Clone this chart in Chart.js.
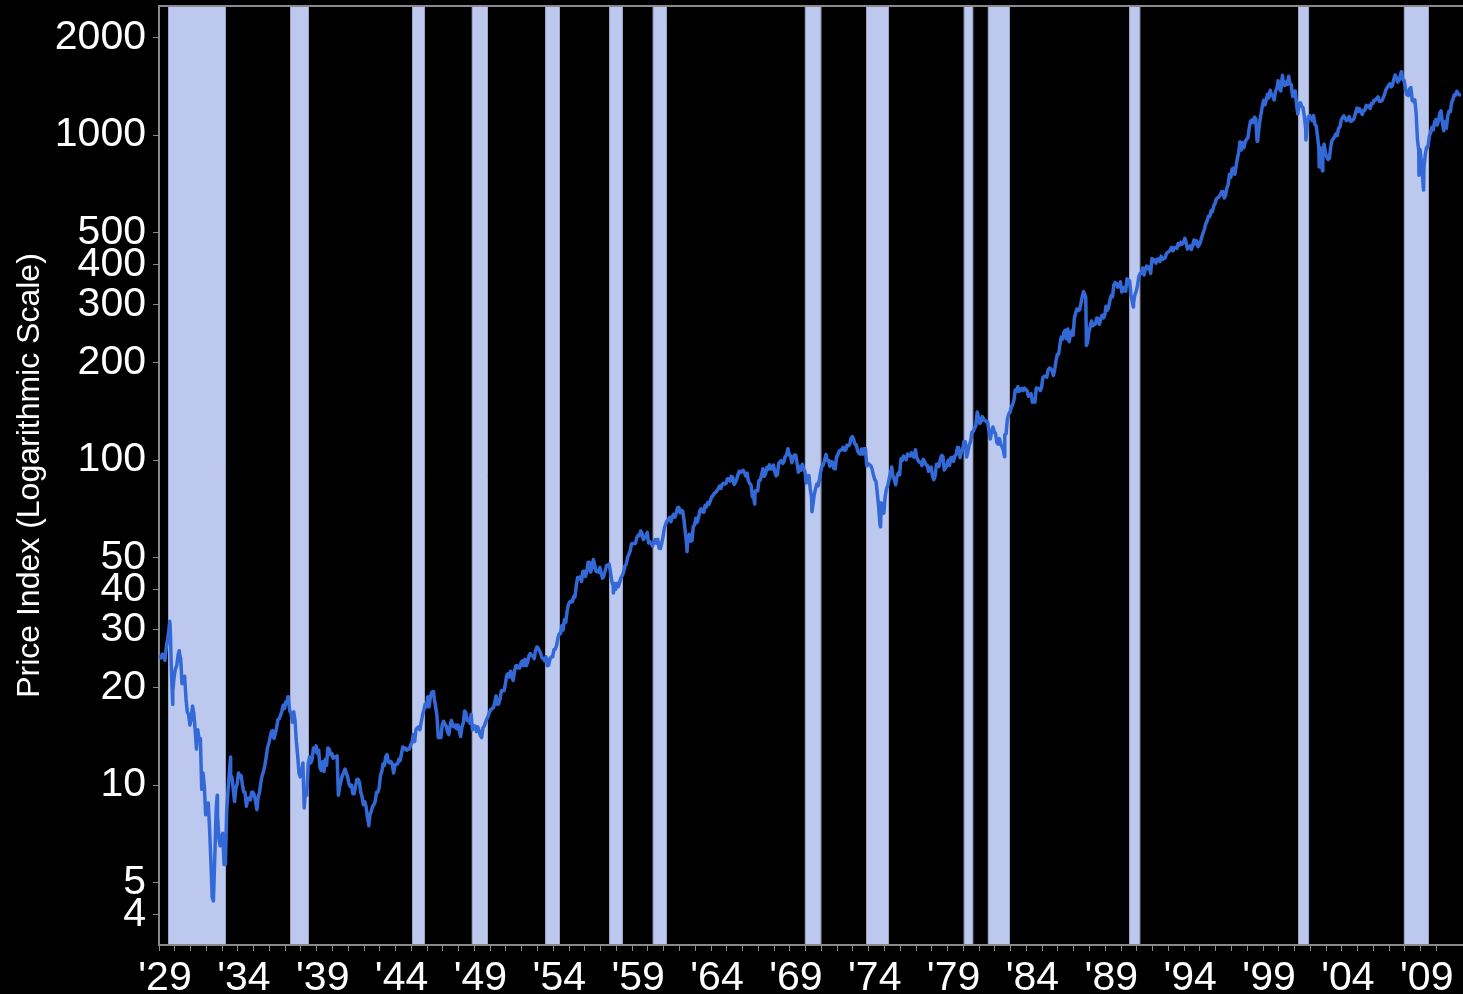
<!DOCTYPE html>
<html>
<head>
<meta charset="utf-8">
<script src="https://cdn.jsdelivr.net/npm/chart.js@4.4.1/dist/chart.umd.min.js"></script>
<style>
  html, body { margin: 0; padding: 0; background: #000; }
  #wrap { width: 1463px; height: 994px; position: relative; }
</style>
</head>
<body>
<div id="wrap"><canvas id="c"></canvas></div>
<script>
// Monthly index levels, January 1929 onward, one array per decade.
const firstYear = 1929;

const m1929_1938 = [
  24.9, 24.6, 25.3, 25.0, 24.2, 26.5, 28.0, 30.0, 31.0, 22.0, 19.5, 21.5,
  22.8, 23.3, 25.1, 25.5, 24.5, 20.5, 21.5, 21.6, 18.5, 16.8, 16.5, 15.3,
  16.0, 17.5, 16.6, 14.8, 12.9, 14.8, 13.8, 13.9, 9.7, 10.9, 9.9, 8.1,
  8.3, 8.8, 7.3, 5.8, 4.5, 4.4, 6.1, 8.4, 8.1, 6.9, 6.5, 6.9,
  7.1, 5.7, 5.7, 8.3, 9.6, 10.9, 10.6, 10.6, 9.7, 8.9, 9.8, 10.1,
  10.9, 10.6, 10.7, 10.0, 9.5, 9.5, 8.6, 9.1, 9.1, 9.0, 9.5, 9.5,
  9.3, 8.9, 8.4, 9.2, 9.5, 10.2, 10.7, 11.0, 11.5, 12.1, 13.0, 13.4,
  14.0, 14.6, 14.7, 13.9, 14.4, 15.0, 15.9, 16.0, 16.4, 16.9, 17.6, 17.2,
  18.0, 18.1, 18.2, 16.9, 16.6, 15.6, 16.8, 15.8, 13.6, 12.3, 10.9, 10.6,
  11.0, 11.7, 8.5, 9.7, 9.3, 11.6, 12.2, 11.7, 12.0, 13.0, 12.7, 13.2
];

const m1939_1948 = [
  12.5, 12.8, 11.3, 11.1, 11.8, 11.0, 12.0, 11.5, 13.0, 12.9, 12.4, 12.5,
  12.1, 12.2, 12.2, 12.3, 9.3, 9.9, 10.3, 10.7, 10.9, 11.2, 10.9, 10.6,
  10.1, 9.9, 10.0, 9.4, 9.4, 9.9, 10.4, 10.4, 10.2, 9.5, 9.2, 8.7,
  8.9, 8.6, 8.0, 7.6, 8.1, 8.3, 8.6, 8.7, 8.9, 9.5, 9.5, 9.8,
  10.7, 11.0, 11.6, 11.5, 12.2, 12.4, 11.8, 11.7, 11.8, 11.6, 10.9, 11.5,
  11.6, 11.6, 12.0, 11.9, 12.5, 13.1, 12.9, 13.0, 12.8, 12.9, 12.9, 13.3,
  13.5, 14.3, 13.6, 14.8, 15.0, 15.1, 14.8, 15.6, 16.4, 17.0, 17.7, 17.4,
  18.7, 17.4, 18.7, 19.3, 19.4, 18.4, 17.4, 16.3, 14.0, 14.0, 14.0, 15.3,
  15.7, 15.4, 15.2, 14.6, 14.3, 15.2, 15.8, 15.2, 15.1, 15.3, 14.9, 15.3,
  14.7, 14.1, 15.1, 15.5, 16.9, 16.7, 15.8, 15.9, 15.5, 16.5, 14.8, 15.2
];

const m1949_1958 = [
  15.2, 14.6, 15.1, 14.7, 14.2, 14.0, 15.0, 15.2, 15.6, 16.0, 16.3, 16.8,
  17.1, 17.2, 17.3, 18.0, 18.8, 17.7, 17.8, 18.4, 19.5, 19.5, 19.5, 20.4,
  21.7, 22.0, 21.5, 22.4, 21.5, 21.0, 22.4, 23.3, 23.3, 22.9, 22.9, 23.8,
  24.1, 23.3, 24.4, 23.3, 23.9, 25.0, 25.4, 25.0, 25.0, 24.5, 26.0, 26.6,
  26.4, 25.9, 25.3, 24.6, 24.5, 24.1, 24.8, 23.3, 23.4, 24.5, 24.8, 24.8,
  26.1, 26.2, 26.9, 28.3, 29.2, 29.2, 30.9, 30.0, 32.3, 31.7, 34.2, 36.0,
  36.6, 36.8, 36.6, 38.0, 37.9, 41.0, 43.5, 43.2, 43.7, 42.3, 45.5, 45.5,
  43.8, 45.3, 48.5, 48.4, 45.2, 47.0, 49.4, 47.5, 45.4, 45.6, 45.1, 46.7,
  44.7, 43.3, 44.1, 45.7, 47.4, 47.4, 47.9, 45.2, 42.4, 41.1, 41.7, 40.0,
  41.7, 40.8, 42.1, 43.4, 44.1, 45.2, 47.2, 47.8, 50.1, 51.3, 52.5, 55.2
];

const m1959_1968 = [
  55.4, 55.4, 55.4, 57.6, 58.7, 58.5, 60.5, 59.6, 56.9, 57.5, 58.3, 59.9,
  55.6, 56.1, 55.3, 54.4, 55.8, 56.9, 55.5, 57.0, 53.5, 53.4, 55.5, 58.1,
  61.8, 63.4, 65.1, 65.3, 66.6, 64.6, 66.8, 68.1, 66.7, 68.6, 71.3, 71.6,
  68.8, 70.0, 69.6, 65.2, 59.6, 54.8, 58.2, 59.1, 56.3, 56.5, 62.3, 63.1,
  66.2, 64.3, 66.6, 69.8, 70.8, 69.4, 69.1, 72.5, 71.7, 74.0, 73.2, 75.0,
  77.0, 77.8, 79.0, 79.5, 80.4, 81.7, 83.2, 81.8, 84.2, 84.9, 84.4, 84.8,
  87.6, 87.4, 86.2, 89.1, 88.4, 84.1, 85.3, 87.2, 90.0, 92.4, 91.6, 92.4,
  92.9, 91.2, 89.2, 91.1, 86.1, 84.7, 83.6, 77.1, 76.6, 80.2, 80.5, 80.3,
  86.6, 86.8, 90.2, 94.0, 89.1, 90.6, 94.8, 93.6, 96.7, 93.9, 94.0, 96.5,
  92.2, 89.4, 90.2, 97.6, 98.7, 99.6, 97.7, 98.9, 102.7, 103.4, 108.4, 103.9
];

const m1969_1978 = [
  103.0, 98.1, 101.5, 103.7, 103.5, 97.7, 91.8, 95.5, 93.1, 97.1, 93.8, 92.1,
  85.0, 89.5, 89.6, 81.5, 76.6, 72.7, 78.1, 81.5, 84.3, 83.3, 87.2, 92.2,
  95.9, 96.8, 100.3, 104.0, 99.6, 99.7, 95.6, 99.0, 98.3, 94.2, 94.0, 102.1,
  103.9, 106.6, 107.2, 107.7, 109.5, 107.1, 107.4, 111.1, 110.6, 111.6, 116.7, 118.1,
  116.0, 111.7, 111.5, 107.0, 105.0, 104.3, 108.2, 104.3, 108.4, 108.3, 96.0, 97.6,
  96.6, 96.2, 94.0, 90.3, 87.3, 86.0, 79.3, 72.2, 63.5, 73.9, 70.0, 68.6,
  77.0, 81.6, 83.4, 87.3, 91.2, 95.2, 88.8, 86.9, 83.9, 89.0, 91.2, 90.2,
  100.9, 99.7, 102.8, 101.6, 100.2, 104.3, 103.4, 102.9, 105.2, 102.9, 102.1, 107.5,
  102.0, 99.8, 98.4, 98.4, 96.1, 100.5, 98.9, 96.8, 96.5, 92.3, 94.8, 95.1,
  89.3, 87.0, 89.2, 97.0, 97.2, 95.5, 100.7, 103.3, 102.5, 93.2, 94.7, 96.1
];

const m1979_1988 = [
  99.9, 96.3, 101.6, 101.8, 99.1, 102.9, 103.8, 109.3, 109.3, 101.8, 106.2, 107.9,
  114.2, 113.7, 102.1, 106.3, 111.2, 114.2, 121.7, 122.4, 125.5, 127.5, 140.5, 135.8,
  129.6, 131.3, 136.0, 132.8, 132.6, 131.2, 130.9, 122.8, 116.2, 121.9, 126.4, 122.6,
  120.4, 113.1, 112.0, 116.4, 111.9, 109.6, 107.1, 119.5, 120.4, 133.7, 138.5, 140.6,
  145.3, 148.1, 153.0, 164.4, 162.4, 168.1, 162.6, 164.4, 166.1, 163.6, 166.4, 164.9,
  163.4, 157.1, 159.2, 160.1, 150.6, 153.2, 150.7, 166.7, 166.1, 166.1, 163.6, 167.2,
  179.6, 181.2, 180.7, 179.8, 189.6, 191.9, 190.9, 188.6, 182.1, 189.8, 202.2, 211.3,
  211.8, 226.9, 238.9, 235.5, 247.4, 250.8, 236.1, 252.9, 231.3, 244.0, 249.2, 242.2,
  274.1, 284.2, 291.7, 288.4, 290.1, 304.0, 318.7, 329.8, 321.8, 251.8, 230.3, 247.1,
  257.1, 267.8, 258.9, 261.3, 262.2, 273.5, 272.0, 261.5, 271.9, 279.0, 273.7, 277.7
];

const m1989_1998 = [
  297.5, 288.9, 294.9, 309.6, 320.5, 318.0, 346.1, 351.5, 349.2, 340.4, 346.0, 353.4,
  329.1, 331.9, 339.9, 330.8, 361.2, 358.0, 356.2, 322.6, 306.1, 304.0, 322.2, 330.2,
  343.9, 367.1, 375.2, 375.3, 389.8, 371.2, 387.8, 395.4, 387.9, 392.5, 375.2, 417.1,
  408.8, 412.7, 403.7, 415.0, 415.4, 408.1, 424.2, 414.0, 417.8, 418.7, 431.4, 435.7,
  438.8, 443.4, 451.7, 440.2, 450.2, 450.5, 448.1, 463.6, 458.9, 467.8, 461.8, 466.5,
  481.6, 467.1, 445.8, 450.9, 456.5, 444.3, 458.3, 475.5, 462.7, 472.4, 453.7, 459.3,
  470.4, 487.4, 500.7, 514.7, 533.4, 544.8, 562.1, 561.9, 584.4, 581.5, 605.4, 615.9,
  636.0, 640.4, 645.5, 654.2, 669.1, 670.6, 640.0, 652.0, 687.3, 705.3, 757.0, 740.7,
  786.2, 790.8, 757.1, 801.3, 848.3, 885.1, 954.3, 899.5, 947.3, 914.6, 955.4, 970.4,
  980.3, 1049.3, 1101.8, 1111.8, 1090.8, 1133.8, 1120.7, 957.3, 1017.0, 1098.7, 1163.6, 1229.2
];

const m1999_2011 = [
  1279.6, 1238.3, 1286.4, 1335.2, 1301.8, 1372.7, 1328.7, 1320.4, 1282.7, 1362.9, 1388.9, 1469.3,
  1394.5, 1366.4, 1498.6, 1452.4, 1420.6, 1454.6, 1430.8, 1517.7, 1436.5, 1429.4, 1315.2, 1320.3,
  1366.0, 1239.9, 1160.3, 1249.5, 1255.8, 1224.4, 1211.2, 1133.6, 1040.9, 1059.8, 1139.5, 1148.1,
  1130.2, 1106.7, 1147.4, 1076.9, 1067.1, 989.8, 911.6, 916.1, 815.3, 885.8, 936.3, 879.8,
  855.7, 841.2, 848.2, 916.9, 963.6, 974.5, 990.3, 1008.0, 996.0, 1050.7, 1058.2, 1111.9,
  1131.1, 1144.9, 1126.2, 1107.3, 1120.7, 1140.8, 1101.7, 1104.2, 1114.6, 1130.2, 1173.8, 1211.9,
  1181.3, 1203.6, 1180.6, 1156.9, 1191.5, 1191.3, 1234.2, 1220.3, 1228.8, 1207.0, 1249.5, 1248.3,
  1280.1, 1280.7, 1294.8, 1310.6, 1270.1, 1270.2, 1276.7, 1303.8, 1335.9, 1377.9, 1400.6, 1418.3,
  1438.2, 1406.8, 1420.9, 1482.4, 1530.6, 1503.4, 1455.3, 1474.0, 1526.8, 1549.4, 1481.1, 1468.4,
  1378.6, 1330.6, 1322.7, 1385.6, 1400.4, 1280.0, 1267.4, 1282.8, 1166.4, 968.8, 896.2, 903.3,
  825.9, 735.1, 797.9, 872.8, 919.1, 919.3, 987.5, 1020.6, 1057.1, 1036.2, 1095.6, 1115.1,
  1073.9, 1104.5, 1169.4, 1186.7, 1089.4, 1030.7, 1101.6, 1049.3, 1141.2, 1183.3, 1180.6, 1257.6,
  1286.1, 1327.2, 1325.8, 1363.6, 1345.2, 1328.0
];

// Intra-month highs and lows at the major turning points: [year, level]
const turningPoints = [
  [1929.68, 31.9], [1929.87, 17.7], [1930.28, 25.9], [1932.45, 4.4],
  [1932.69, 9.3], [1933.54, 12.2], [1937.18, 18.7], [1942.30, 7.5],
  [1946.41, 19.3], [1957.81, 39.0], [1962.48, 52.3], [1966.77, 73.2],
  [1970.40, 69.3], [1974.75, 62.3], [1982.61, 102.4], [1987.76, 316],
  [1987.80, 225], [1990.78, 295.5], [1998.66, 957], [2000.23, 1527],
  [2001.72, 966], [2002.56, 798], [2002.77, 777], [2007.77, 1565],
  [2008.89, 752], [2009.18, 677]
];

// Recession periods: [start, end] in decimal years
const recessions = [
  [1929.58, 1933.22], [1937.33, 1938.50], [1945.05, 1945.85], [1948.83, 1949.83],
  [1953.50, 1954.42], [1957.55, 1958.40], [1960.30, 1961.20], [1969.95, 1971.00],
  [1973.84, 1975.27], [1980.02, 1980.63], [1981.55, 1982.95], [1990.52, 1991.22],
  [2001.22, 2001.92], [2007.93, 2009.52]
];

const yTicks = [4, 5, 10, 20, 30, 40, 50, 100, 200, 300, 400, 500, 1000, 2000];
const xMin = 1929, xMax = 2011.68, labelEvery = 5;

const monthly = [].concat(m1929_1938, m1939_1948, m1949_1958, m1959_1968,
                          m1969_1978, m1979_1988, m1989_1998, m1999_2011);
const points = monthly.map((v, i) => ({ x: firstYear + (i + 0.5) / 12, y: v }));
turningPoints.forEach(([x, y]) => points.push({ x, y }));
points.sort((a, b) => a.x - b.x);

const FONT = "'Liberation Sans', Arial, sans-serif";

// Black background and shaded recession bands, drawn beneath axes and line
const backdrop = {
  id: 'backdrop',
  beforeDraw(chart) {
    const { ctx, width, height, chartArea, scales } = chart;
    ctx.save();
    ctx.fillStyle = '#000';
    ctx.fillRect(0, 0, width, height);
    const x = scales.x;
    recessions.forEach(([a, b]) => {
      const x1 = x.getPixelForValue(a);
      const x2 = x.getPixelForValue(b);
      ctx.fillStyle = '#bcc8ee';
      ctx.fillRect(x1, chartArea.top, x2 - x1, chartArea.bottom - chartArea.top);
      ctx.strokeStyle = '#9ca6c8';
      ctx.lineWidth = 1;
      ctx.beginPath();
      ctx.moveTo(Math.round(x1) + 0.5, chartArea.top);
      ctx.lineTo(Math.round(x1) + 0.5, chartArea.bottom);
      ctx.moveTo(Math.round(x2) - 0.5, chartArea.top);
      ctx.lineTo(Math.round(x2) - 0.5, chartArea.bottom);
      ctx.stroke();
    });
    ctx.restore();
  },
  afterDraw(chart) {
    const { ctx, chartArea } = chart;
    ctx.save();
    ctx.strokeStyle = '#8a8a8a';
    ctx.lineWidth = 2;
    ctx.beginPath();
    ctx.moveTo(chartArea.left, chartArea.top);
    ctx.lineTo(chartArea.right, chartArea.top);
    ctx.stroke();
    ctx.restore();
  }
};

new Chart(document.getElementById('c'), {
  type: 'line',
  data: {
    datasets: [{
      data: points,
      borderColor: '#3369d7',
      borderWidth: 3.5,
      borderJoinStyle: 'round',
      borderCapStyle: 'round',
      pointRadius: 0,
      tension: 0,
      fill: false
    }]
  },
  options: {
    responsive: true,
    maintainAspectRatio: false,
    animation: false,
    layout: { padding: { top: 6, right: 0, bottom: 0, left: 0 } },
    plugins: { legend: { display: false }, tooltip: { enabled: false } },
    scales: {
      x: {
        type: 'linear',
        min: xMin,
        max: xMax,
        afterFit(s) { s.height = 49; s.paddingRight = 0; },
        ticks: {
          stepSize: 1,
          autoSkip: false,
          maxRotation: 0,
          minRotation: 0,
          padding: 3,
          labelOffset: 6,
          color: '#ffffff',
          font: { family: FONT, size: 41 },
          callback(v) {
            if (Number.isInteger(v) && (v - xMin) % labelEvery === 0) {
              return "'" + String(v % 100).padStart(2, '0');
            }
            return '';
          }
        },
        grid: { drawOnChartArea: false, drawTicks: true, tickLength: 6, color: '#8a8a8a', lineWidth: 1 },
        border: { display: true, color: '#8a8a8a', width: 2 }
      },
      y: {
        type: 'logarithmic',
        min: 3.22,
        max: 2495,
        afterFit(s) { s.width = 159; s.paddingTop = 0; s.paddingBottom = 0; },
        afterBuildTicks(s) { s.ticks = yTicks.map(v => ({ value: v })); },
        ticks: {
          autoSkip: false,
          padding: 7,
          color: '#ffffff',
          font: { family: FONT, size: 41 },
          callback(v) { return String(v); }
        },
        grid: { drawOnChartArea: false, drawTicks: true, tickLength: 6, color: '#8a8a8a', lineWidth: 1 },
        border: { display: true, color: '#8a8a8a', width: 2 },
        title: {
          display: true,
          text: 'Price Index (Logarithmic Scale)',
          color: '#ffffff',
          font: { family: FONT, size: 32, lineHeight: 1 },
          padding: { top: 14, bottom: 0 }
        }
      }
    }
  },
  plugins: [backdrop]
});
</script>
</body>
</html>
